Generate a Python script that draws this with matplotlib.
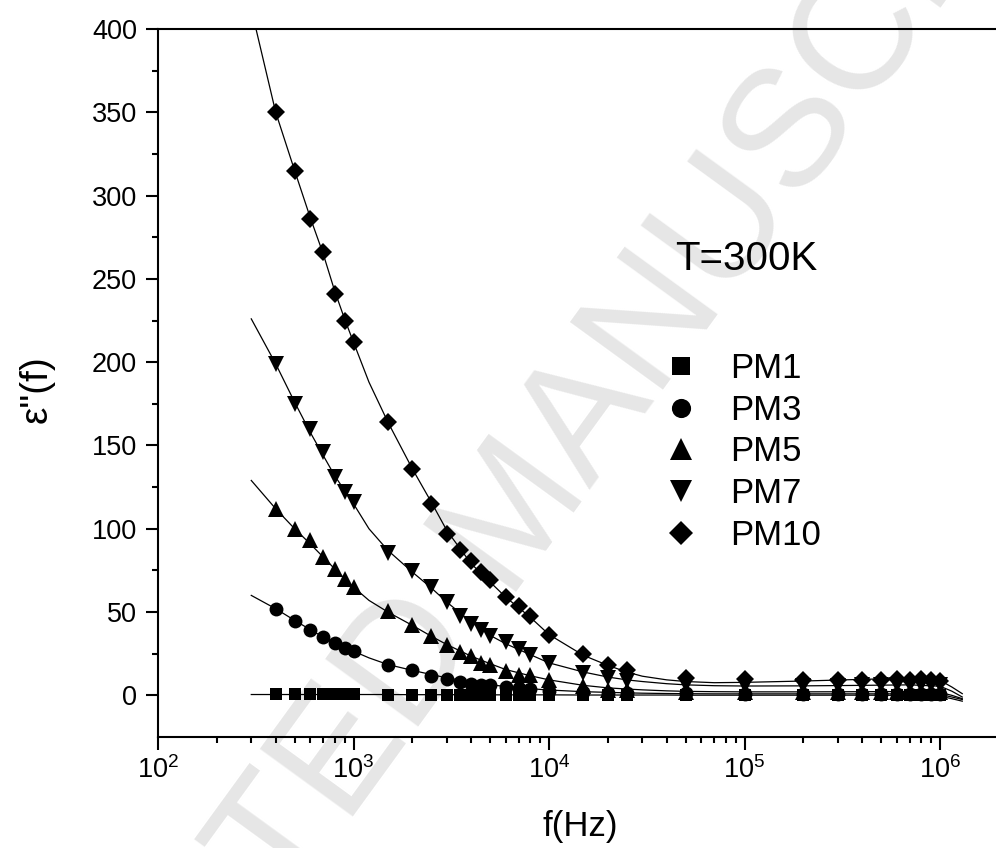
import matplotlib
matplotlib.use("Agg")
import matplotlib.pyplot as plt
from matplotlib.ticker import FixedLocator, LogLocator, NullFormatter

plt.rcParams['font.family'] = ['Liberation Sans', 'DejaVu Sans']
plt.rcParams['mathtext.fontset'] = 'custom'
plt.rcParams['mathtext.rm'] = 'Liberation Sans'
plt.rcParams['mathtext.it'] = 'Liberation Sans'

# measured points
freq = [400, 500, 600, 700, 800, 900, 1000, 1500, 2000, 2500, 3000, 3500, 4000, 4500,
        5000, 6000, 7000, 8000, 10000, 15000, 20000, 25000, 50000, 100000, 200000,
        300000, 400000, 500000, 600000, 700000, 800000, 900000, 1000000]
pm1 = [0.6, 0.6, 0.6, 0.6, 0.6, 0.6, 0.6, 0.5, 0.5, 0.5, 0.5, 0.5, 0.5, 0.5,
       0.5, 0.4, 0.4, 0.4, 0.4, 0.3, 0.3, 0.3, 0.3, 0.3, 0.3,
       0.3, 0.3, 0.3, 0.3, 0.3, 0.3, 0.3, 0.3]
pm3 = [52, 44.5, 39.5, 35, 31.5, 28.5, 26.6, 18, 15.5, 11.5, 10, 8, 7, 6.3,
       6, 5, 4.2, 4, 2.5, 2, 1.6, 1.5, 1.2, 1.1, 1.1,
       1.1, 1.1, 1.1, 1.1, 1.1, 1.1, 1.1, 1.1]
pm5 = [112, 100, 93, 83, 76, 70, 65, 50.5, 42.5, 35.5, 30.5, 26, 23.4, 19.5,
       18, 14.8, 12.2, 12, 9.5, 5.5, 3.5, 3, 2.2, 2, 2,
       2, 2, 2, 2, 2, 2, 2, 2]
pm7 = [199, 175, 160, 146, 131, 122, 116, 85.5, 74.5, 65, 56, 47.5, 43, 39,
       35.5, 32, 28, 24.5, 19.5, 13.5, 10.3, 8.8, 6, 5.6, 5.6,
       5.8, 6, 6, 6.2, 6.2, 6.2, 6.2, 6]
pm10 = [350, 315, 286, 266, 241, 225, 212, 164, 136, 115, 97, 87, 80.5, 74,
        69, 59, 53.5, 47.5, 36, 25, 18.5, 15.3, 10.2, 9.8, 9,
        9.5, 9.5, 9.3, 10, 9.5, 9.8, 9.5, 8.8]

# fitted curves
fit_f = [300, 400, 500, 600, 700, 800, 900, 1000, 1200, 1500, 2000, 2500, 3000, 4000,
         5000, 6000, 8000, 10000, 15000, 20000, 25000, 30000, 40000, 50000, 70000,
         100000, 200000, 400000, 700000, 1000000, 1150000, 1300000]
fit_pm1 = [0.5, 0.5, 0.5, 0.5, 0.5, 0.5, 0.5, 0.5, 0.5, 0.5, 0.4, 0.4, 0.4, 0.4,
           0.3, 0.3, 0.3, 0.3, 0.2, 0.2, 0.2, 0.2, 0.2, 0.1, 0.1,
           0.1, 0.1, 0.1, 0.0, -0.5, -2, -3.5]
fit_pm3 = [60, 52, 45, 39.5, 35, 31.5, 29, 26.5, 22.5, 18.5, 15, 12.5, 10.5, 8,
           6.4, 5.3, 4, 3.2, 2.2, 1.8, 1.5, 1.3, 1.1, 1.0, 0.9,
           0.9, 0.9, 0.9, 0.9, 0.6, -1, -2.5]
fit_pm5 = [129, 112, 100, 91, 83, 76, 70, 65, 57, 50, 42, 35.5, 30.5, 23.5,
           19, 15.5, 11.8, 9.3, 6, 4.5, 3.8, 3.3, 2.7, 2.4, 2.2,
           2.1, 2.1, 2.2, 2.3, 1.8, 0, -2]
fit_pm7 = [226, 199, 176, 158, 144, 132, 123, 115, 100, 87, 74, 64.5, 56, 44,
           36, 31, 24.5, 19.5, 14, 11, 9.3, 8.3, 7, 6.3, 5.8,
           5.6, 5.7, 6, 6.3, 5.5, 2.5, -1]
fit_pm10 = [412, 350, 315, 287, 265, 243, 226, 212, 188, 164, 136, 116, 99, 79,
            68, 59, 47, 36.5, 24, 18, 14, 11.5, 9.3, 8.3, 7.6,
            7.8, 8.6, 9.6, 10.3, 9, 5, 1]

labels = ['PM1', 'PM3', 'PM5', 'PM7', 'PM10']
markers = ['s', 'o', '^', 'v', 'D']
msizes = [9, 10, 11.5, 11.5, 8.7]
series = [pm1, pm3, pm5, pm7, pm10]
fits = [fit_pm1, fit_pm3, fit_pm5, fit_pm7, fit_pm10]

fig = plt.figure(figsize=(9.96, 8.48), dpi=100)
ax = fig.add_axes([158 / 996, 1 - 737 / 848, 1 - 158 / 996, (737 - 29) / 848])
ax.set_zorder(1)
ax.patch.set_alpha(0)

# watermark behind the plot
fig.text(0.52, 0.39, 'ACCEPTED MANUSCRIPT', fontsize=120, color='#e6e6e6',
         rotation=54, ha='center', va='center', rotation_mode='anchor', zorder=0)

for y, f, m, ms, lab in zip(series, fits, markers, msizes, labels):
    ax.plot(fit_f, f, '-', color='black', lw=0.9, zorder=2)
    ax.plot(freq, y, linestyle='none', marker=m, ms=ms, color='black',
            markeredgewidth=0, label=lab, zorder=3)

ax.set_xscale('log')
ax.set_xlim(100, 10 ** (2 + (996 - 158) / 195.5))
ax.set_ylim(-25, 400)

ax.xaxis.set_major_locator(FixedLocator([1e2, 1e3, 1e4, 1e5, 1e6]))
ax.set_xticklabels([r'$10^2$', r'$10^3$', r'$10^4$', r'$10^5$', r'$10^6$'])
ax.xaxis.set_minor_locator(LogLocator(base=10, subs=range(2, 10), numticks=20))
ax.xaxis.set_minor_formatter(NullFormatter())
ax.yaxis.set_major_locator(FixedLocator([0, 50, 100, 150, 200, 250, 300, 350, 400]))
ax.yaxis.set_minor_locator(FixedLocator([25, 75, 125, 175, 225, 275, 325, 375]))

ax.tick_params(which='major', direction='out', length=9, width=1.5, labelsize=19.5)
ax.tick_params(which='minor', direction='out', length=4.5, width=1.5)
ax.tick_params(axis='x', which='major', pad=5)
ax.tick_params(axis='y', which='major', pad=6)
for s in ['left', 'bottom', 'top']:
    ax.spines[s].set_linewidth(1.5)
ax.spines['right'].set_visible(False)

ax.set_xlabel('f(Hz)', fontsize=25, va='top')
ax.xaxis.set_label_coords((580 - 158) / 838, (737 - 810) / 708)
ax.set_ylabel('ε"(f)', fontsize=28)
ax.yaxis.set_label_coords((55 - 158) / 838, (737 - 389) / 708)

ax.text((675 - 158) / 838, (737 - 270) / 708, 'T=300K', transform=ax.transAxes,
        fontsize=29, va='baseline', ha='left')

ax.legend(loc='upper left', bbox_to_anchor=((666 - 158) / 838, (737 - 352) / 708),
          frameon=False, fontsize=25, markerscale=1.38, handlelength=0.86,
          handletextpad=0.98, labelspacing=0.25, borderpad=0, borderaxespad=0)

fig.savefig('out.png', dpi=100)
